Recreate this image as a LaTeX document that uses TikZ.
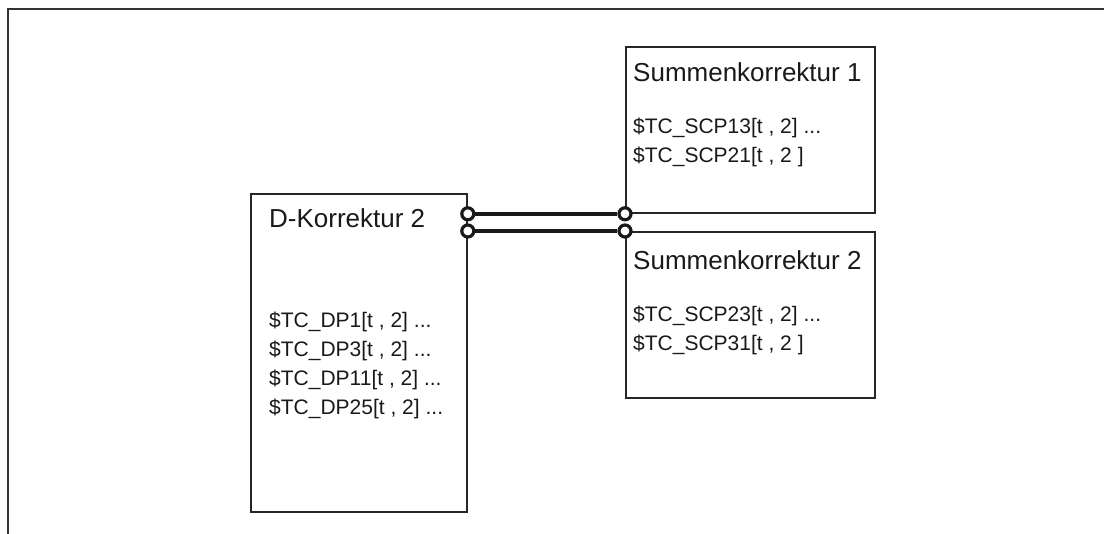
\documentclass[tikz,border=0pt]{standalone}
\usepackage{fontspec}
\setmainfont{Liberation Sans}

\begin{document}
\begin{tikzpicture}[x=1pt,y=-1pt,
    box/.style={draw=black!85,line width=1.8pt,anchor=north west,inner sep=0pt},
    title/.style={anchor=base west,inner sep=0pt,text=black!90,font=\fontsize{26}{30}\selectfont},
    entry/.style={anchor=base west,inner sep=0pt,text=black!90,font=\fontsize{21}{25}\selectfont},
    link/.style={line width=4pt,black!90},
    port/.style={circle,draw=black!90,fill=white,line width=3.2pt,minimum size=12pt,inner sep=0pt}]
    \useasboundingbox (0,0) rectangle (1104,534);
    % Draw outer frame
    \draw[line width=2pt,black!80] (8,534) -- (8,9.5) -- (1104,9.5);
    % Draw boxes
    \node[box,minimum width=216pt,minimum height=318pt] (dk) at (250,193) {};
    \node[box,minimum width=249pt,minimum height=166pt] (sk1) at (625,46) {};
    \node[box,minimum width=249pt,minimum height=166pt] (sk2) at (625,231) {};
    % Draw titles
    \node[title] (dktitle) at (269,228) {D-Korrektur 2};
    \node[title] (sk1title) at (633,82) {Summenkorrektur 1};
    \node[title] (sk2title) at (633,270) {Summenkorrektur 2};
    % Draw entries
    \foreach \i/\n in {0/1,1/3,2/11,3/25}
        \node[entry] (dp\n) at (269,{328+29*\i}) {\$TC\_DP\n[t , 2] ...};
    \node[entry] (scp13) at (633,134) {\$TC\_SCP13[t , 2] ...};
    \node[entry] (scp21) at (633,163) {\$TC\_SCP21[t , 2 ]};
    \node[entry] (scp23) at (633,322) {\$TC\_SCP23[t , 2] ...};
    \node[entry] (scp31) at (633,351) {\$TC\_SCP31[t , 2 ]};
    % Draw links
    \node[port] (pl1) at (dk.east |- sk1.south west) {};
    \node[port] (pl2) at (dk.east |- sk2.north west) {};
    \node[port] (pr1) at (sk1.south west) {};
    \node[port] (pr2) at (sk2.north west) {};
    \draw[link] (pl1) -- (pr1);
    \draw[link] (pl2) -- (pr2);
\end{tikzpicture}
\end{document}
